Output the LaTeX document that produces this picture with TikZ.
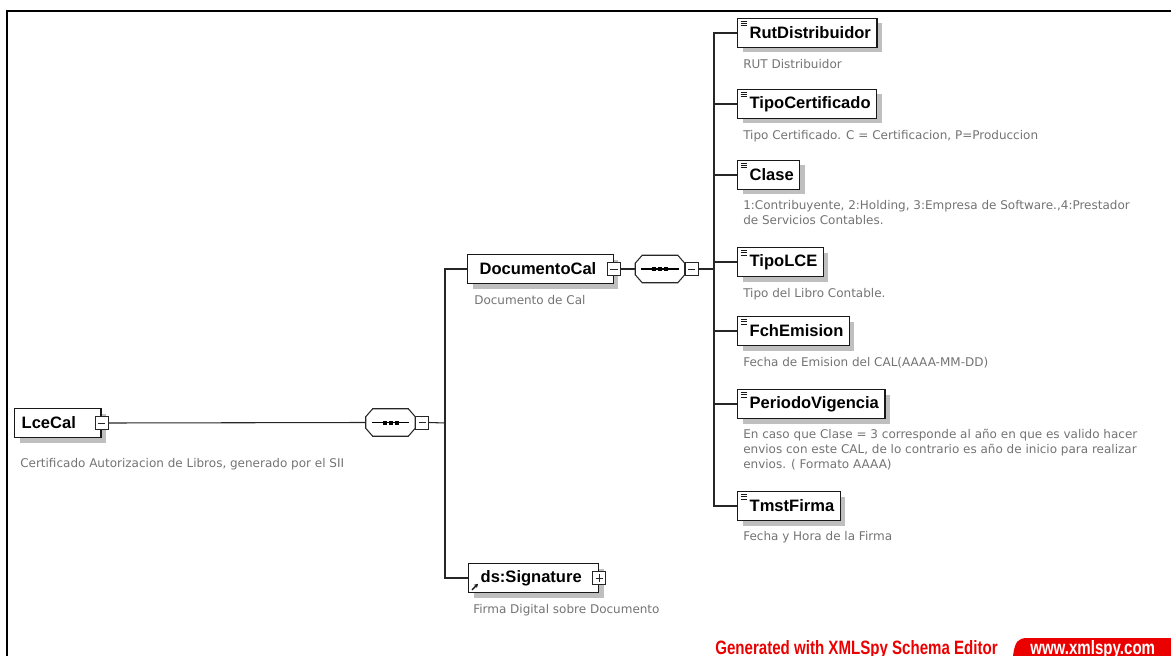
\documentclass[tikz,border=0pt]{standalone}
\usepackage{fontspec}
\setmainfont{Liberation Sans}
\newfontfamily\descfont{DejaVu Sans}
\newfontfamily\logofont[FakeStretch=0.78]{Liberation Sans}
\usetikzlibrary{shadows,arrows.meta}
\definecolor{xsred}{RGB}{235,0,0}

\begin{document}
\begin{tikzpicture}[x=0.75pt,y=-0.75pt,
    conn/.style={draw=black!85, line width=0.8pt},
    elem/.style={draw=black!90, line width=1pt, fill=white, anchor=west,
      minimum height=21.75pt, inner xsep=4.5pt, inner ysep=0pt,
      font=\fontsize{12.4}{14}\selectfont\bfseries,
      general shadow={fill=black!25, shadow xshift=3.75pt, shadow yshift=-3.75pt}},
    lpad/.style={execute at begin node={\hspace*{#1}}},
    rpad/.style={execute at end node={\hspace*{#1}}},
    leaf/.style={elem, lpad=4.5pt,
      path picture={\foreach \k in {2.2,3.9,5.6}
        \draw[line width=0.7pt] ([xshift=2.2pt, yshift=-\k pt]path picture bounding box.north west) -- ++(5pt,0pt);}},
    desc/.style={anchor=north west, inner sep=0pt, align=left, text=black!55,
      font=\descfont\fontsize{9}{11.25}\selectfont, execute at begin node=\strut},
    tgl/.style={draw=black!85, line width=0.7pt, fill=white, minimum size=9.75pt, inner sep=0pt,
      path picture={\draw[line width=0.7pt] ([xshift=-2.8pt]path picture bounding box.center) -- ([xshift=2.8pt]path picture bounding box.center);}},
    tglplus/.style={tgl,
      path picture={\draw[line width=0.7pt] ([xshift=-2.8pt]path picture bounding box.center) -- ([xshift=2.8pt]path picture bounding box.center);
        \draw[line width=0.7pt] ([yshift=-2.8pt]path picture bounding box.center) -- ([yshift=2.8pt]path picture bounding box.center);}},
    seq/.style={minimum width=36.75pt, minimum height=20.25pt, inner sep=0pt},
    oct/.style={line width=0.8pt, draw=black!85, fill=white},
    logo/.style={inner sep=0pt, font=\logofont\fontsize{14.5}{16}\selectfont\bfseries}]

  \useasboundingbox (0,0) rectangle (1171,656);
  \draw[line width=1.5pt] (7,656) -- (7,11) -- (1171,11);

  % root
  \node[elem, lpad=0.75pt, rpad=14.25pt] (lce) at (14,423) {LceCal};
  \node[tgl] (lceT) at (lce.east) {};
  \node[desc] (lceD) at (20,457) {Certificado Autorizacion de Libros, generado por el SII};
  \node[seq] (s1) at (390.5,422.5) {};
  \node[tgl, anchor=west] (s1T) at (s1.east) {};
  \coordinate (b1) at (445,423);
  \draw[conn] (lceT.east) -- (s1.west);
  \draw[conn] (s1T.east) -- (b1);

  % DocumentoCal
  \node[elem, lpad=4.5pt, rpad=8.25pt] (dc) at (467,269) {DocumentoCal};
  \node[tgl] (dcT) at (dc.east) {};
  \node[desc] (dcD) at (474,293.5) {Documento de Cal};
  \node[seq] (s2) at (660,269) {};
  \node[tgl, anchor=west] (s2T) at (s2.east) {};
  \coordinate (b2) at (714,269);
  \draw[conn] (dcT.east) -- (s2.west);
  \draw[conn] (s2T.east) -- (b2);

  % sequence compositors
  \foreach \s in {s1,s2} {
    \fill[black!25, shift={(3.75pt,-3.75pt)}] ([xshift=5.25pt]\s.north west) -- ([xshift=-5.25pt]\s.north east)
      -- ([yshift=-6pt]\s.north east) -- ([yshift=6pt]\s.south east) -- ([xshift=-5.25pt]\s.south east)
      -- ([xshift=5.25pt]\s.south west) -- ([yshift=6pt]\s.south west) -- ([yshift=-6pt]\s.north west) -- cycle;
    \draw[oct] ([xshift=5.25pt]\s.north west) -- ([xshift=-5.25pt]\s.north east)
      -- ([yshift=-6pt]\s.north east) -- ([yshift=6pt]\s.south east) -- ([xshift=-5.25pt]\s.south east)
      -- ([xshift=5.25pt]\s.south west) -- ([yshift=6pt]\s.south west) -- ([yshift=-6pt]\s.north west) -- cycle;
    \draw[line width=0.8pt] ([xshift=-13.9pt]\s.center) -- ([xshift=13.9pt]\s.center);
    \foreach \d in {-4.5,0,4.5}
      \fill ([xshift=\d pt-1.5pt, yshift=-1.5pt]\s.center) rectangle ++(3pt,3pt);
  }

  % ds:Signature
  \node[elem, lpad=4.5pt, rpad=8.25pt,
    path picture={\draw[line width=1pt, -{Stealth[length=3pt,width=3.5pt]}] ([xshift=2.5pt, yshift=2pt]path picture bounding box.south west) -- ++(4.5pt,4.5pt);}]
    (sig) at (468,578) {ds:Signature};
  \node[tglplus] (sigT) at (sig.east) {};
  \node[desc] (sigD) at (473,602.5) {Firma Digital sobre Documento};
  \draw[conn] (b1) |- (dc.west);
  \draw[conn] (b1) |- (sig.west);

  % children of DocumentoCal
  \node[leaf] (rut) at (737,33) {RutDistribuidor};
  \node[desc] (rutD) at (743,58) {RUT Distribuidor};
  \node[leaf] (tipo) at (737,104) {TipoCertificado};
  \node[desc] (tipoD) at (743,129) {Tipo Certificado. C = Certificacion, P=Produccion};
  \node[leaf] (clase) at (737,175) {Clase};
  \node[desc] (claseD) at (743,200.5) {1:Contribuyente, 2:Holding, 3:Empresa de Software.,4:Prestador\\de Servicios Contables.};
  \node[leaf] (tlce) at (737,262) {TipoLCE};
  \node[desc] (tlceD) at (743,287) {Tipo del Libro Contable.};
  \node[leaf] (fch) at (737,331) {FchEmision};
  \node[desc] (fchD) at (743,356) {Fecha de Emision del CAL(AAAA-MM-DD)};
  \node[leaf] (per) at (737,404) {PeriodoVigencia};
  \node[desc] (perD) at (743,429) {En caso que Clase = 3 corresponde al año en que es valido hacer\\envios con este CAL, de lo contrario es año de inicio para realizar\\envios. ( Formato AAAA)};
  \node[leaf] (tmst) at (737,506) {TmstFirma};
  \node[desc] (tmstD) at (743,530) {Fecha y Hora de la Firma};
  \foreach \n in {rut,tipo,clase,tlce,fch,per,tmst}
    \draw[conn] (b2) |- (\n.west);

  % footer
  \node[logo, text=xsred, anchor=base east] (gen) at (998,654) {Generated with XMLSpy Schema Editor};
  \fill[xsred] (1013,656) .. controls (1015,641) and (1018,638) .. (1028,638) -- (1171,638) -- (1171,656) -- cycle;
  \node[logo, text=white, anchor=base west] (url) at (1030,654) {www.xmlspy.com};
\end{tikzpicture}
\end{document}
